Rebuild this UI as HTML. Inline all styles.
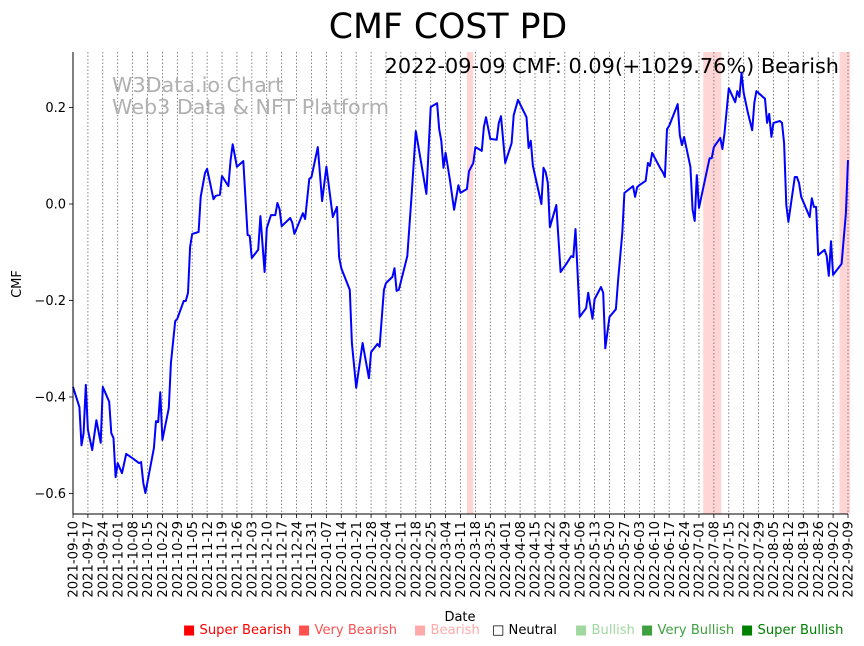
<!DOCTYPE html>
<html><head><meta charset="utf-8"><style>
body{margin:0;background:#fff;}
svg{display:block;font-family:"Liberation Sans","DejaVu Sans",sans-serif;}
</style></head><body>
<svg id="chart" width="864" height="646" viewBox="0 0 864 646">
<text x="448" y="38" text-anchor="middle" font-size="34.7" font-family="DejaVu Sans, Liberation Sans, sans-serif">CMF COST PD</text>
<g id="bands"></g>
<g id="grid"></g>
<text x="112" y="92" font-size="20.7" fill="#b0b0b0" font-family="DejaVu Sans, Liberation Sans, sans-serif">W3Data.io Chart</text>
<text x="112" y="114" font-size="20.7" fill="#b0b0b0" font-family="DejaVu Sans, Liberation Sans, sans-serif">Web3 Data &amp; NFT Platform</text>
<text x="839" y="73" text-anchor="end" font-size="20.8" font-family="DejaVu Sans, Liberation Sans, sans-serif">2022-09-09 CMF: 0.09(+1029.76%) Bearish</text>
<path id="line" fill="none" stroke="#0000ff" stroke-width="2" stroke-linejoin="round"></path>
<g id="axes"></g>
<text transform="translate(21,284) rotate(-90)" text-anchor="middle" font-size="13" font-family="DejaVu Sans, Liberation Sans, sans-serif">CMF</text>
<text x="460" y="621" text-anchor="middle" font-size="13" font-family="DejaVu Sans, Liberation Sans, sans-serif">Date</text>
<g font-size="13.1" font-family="DejaVu Sans, Liberation Sans, sans-serif">
<text x="183" y="634" fill="#ff0000">■ Super Bearish</text>
<text x="298" y="634" fill="#ff5050">■ Very Bearish</text>
<text x="414" y="634" fill="#ffaaaa">■ Bearish</text>
<text x="492" y="634" fill="#000">□ Neutral</text>
<text x="575" y="634" fill="#a0d8a0">■ Bullish</text>
<text x="641" y="634" fill="#40a040">■ Very Bullish</text>
<text x="741" y="634" fill="#008000">■ Super Bullish</text>
</g>
</svg>
<script>
const dayIdx=[0,3,4,5,6,7,9,11,13,14,17,18,19,20,21,23,25,28,31,32,33,34,38,39,40,41,42,45,46,48,49,52,53,54,55,56,59,60,62,63,66,67,69,70,73,74,75,77,80,82,83,84,87,88,90,91,93,95,96,97,98,102,103,104,108,109,111,112,115,117,119,122,124,125,126,130,131,133,136,139,140,143,144,146,147,150,151,152,153,157,159,161,166,168,171,172,173,174,175,177,179,181,182,185,186,188,189,192,193,194,196,199,200,201,203,206,207,209,213,214,215,216,220,221,222,223,224,227,229,232,234,235,236,238,241,242,244,245,248,249,250,252,255,256,258,259,263,264,265,266,269,270,271,272,276,277,278,279,280,284,285,286,287,290,291,292,293,294,296,299,300,301,304,305,306,308,311,312,313,314,315,317,319,320,321,325,326,327,328,329,332,333,334,335,336,339,340,341,342,346,347,348,349,350,353,354,355,356,357,361,363,364];
const cmfValues=[-0.379,-0.421,-0.5,-0.475,-0.375,-0.468,-0.51,-0.448,-0.495,-0.379,-0.41,-0.475,-0.485,-0.566,-0.537,-0.558,-0.518,-0.527,-0.537,-0.535,-0.578,-0.599,-0.506,-0.45,-0.452,-0.39,-0.489,-0.423,-0.33,-0.243,-0.238,-0.201,-0.201,-0.184,-0.089,-0.062,-0.058,0.015,0.064,0.073,0.01,0.017,0.019,0.058,0.037,0.091,0.124,0.077,0.089,-0.064,-0.066,-0.112,-0.095,-0.025,-0.141,-0.05,-0.023,-0.023,0.002,-0.01,-0.046,-0.029,-0.039,-0.062,-0.019,-0.031,0.052,0.056,0.118,0.006,0.077,-0.027,-0.006,-0.11,-0.133,-0.178,-0.288,-0.381,-0.288,-0.361,-0.307,-0.29,-0.296,-0.178,-0.164,-0.151,-0.133,-0.18,-0.178,-0.108,0.015,0.151,0.021,0.201,0.209,0.155,0.131,0.075,0.106,0.05,-0.012,0.039,0.023,0.031,0.068,0.085,0.118,0.11,0.16,0.18,0.135,0.133,0.168,0.182,0.085,0.126,0.184,0.216,0.18,0.116,0.131,0.079,0,0.075,0.066,0.044,-0.048,-0.002,-0.141,-0.122,-0.108,-0.11,-0.052,-0.234,-0.216,-0.184,-0.238,-0.197,-0.172,-0.184,-0.299,-0.234,-0.218,-0.158,-0.06,0.023,0.037,0.015,0.035,0.039,0.048,0.085,0.079,0.106,0.073,0.066,0.056,0.155,0.162,0.207,0.143,0.122,0.139,0.077,-0.012,-0.035,0.06,-0.008,0.033,0.095,0.095,0.118,0.137,0.114,0.147,0.24,0.211,0.234,0.222,0.272,0.23,0.189,0.153,0.209,0.234,0.218,0.168,0.187,0.139,0.168,0.172,0.168,0.126,-0.002,-0.037,0.056,0.056,0.044,0.015,-0.027,0.012,-0.006,-0.006,-0.106,-0.095,-0.108,-0.149,-0.077,-0.147,-0.124,-0.019,0.091];
const bandStart=[185,296,360];
const bandEnd=[188,304.5,365];
const yTicks=[0.2,0.0,-0.2,-0.4,-0.6];
const yTickLabels=["0.2","0.0","\u22120.2","\u22120.4","\u22120.6"];
const startDate="2021-09-10";
const totalDays=364;
const weekCount=53;

const L=73,R=848,T=52,B=514;
const xS=d=>L+d*(R-L)/totalDays;
const yS=v=>204-v*482.5;
const NS="http://www.w3.org/2000/svg";
function mk(tag,attrs,parent){const e=document.createElementNS(NS,tag);for(const k in attrs)e.setAttribute(k,attrs[k]);parent.appendChild(e);return e;}

const bands=document.getElementById('bands');
bandStart.forEach((s,i)=>{
  const r=mk('rect',{x:xS(s),y:T,width:Math.max(1,xS(bandEnd[i])-xS(s)),height:B-T,fill:'#ffd5d5'},bands);
  
  
});

const grid=document.getElementById('grid');
const axes=document.getElementById('axes');
const sd=new Date(startDate+"T00:00:00Z");
for(let i=0;i<weekCount;i++){
  const x=xS(i*7);
  const g=mk('line',{x1:x,x2:x,y1:T,y2:B,stroke:'#666','stroke-width':0.8,'stroke-dasharray':'1.5,2'},grid);
  
  
  const t=mk('line',{x1:x,x2:x,y1:B,y2:B+4,stroke:'#000','stroke-width':0.8},axes);
  
  
  const d=new Date(sd.getTime()+i*7*86400000);
  const lab=d.toISOString().slice(0,10);
  const tx=mk('text',{transform:`translate(${x+4.7},${B+7}) rotate(-90)`,'text-anchor':'end','font-size':13.2,'font-family':'DejaVu Sans, Liberation Sans, sans-serif'},axes);
  tx.textContent=lab;
  
  
}
yTicks.forEach((v,i)=>{
  const y=yS(v);
  const t=mk('line',{x1:L-4,x2:L,y1:y,y2:y,stroke:'#000','stroke-width':0.8},axes);
  
  
  const tx=mk('text',{x:L-7,y:y+4.5,'text-anchor':'end','font-size':13,'font-family':'DejaVu Sans, Liberation Sans, sans-serif'},axes);
  tx.textContent=yTickLabels[i];
  
  
});
const la=mk('line',{x1:L,x2:L,y1:T,y2:B,stroke:'#000','stroke-width':1},axes);


const lb=mk('line',{x1:L,x2:R,y1:B,y2:B,stroke:'#000','stroke-width':1},axes);



document.getElementById('line').setAttribute('d',dayIdx.map((d,i)=>(i?'L':'M')+xS(d).toFixed(1)+','+yS(cmfValues[i]).toFixed(1)).join(''));
</script>
</body></html>
